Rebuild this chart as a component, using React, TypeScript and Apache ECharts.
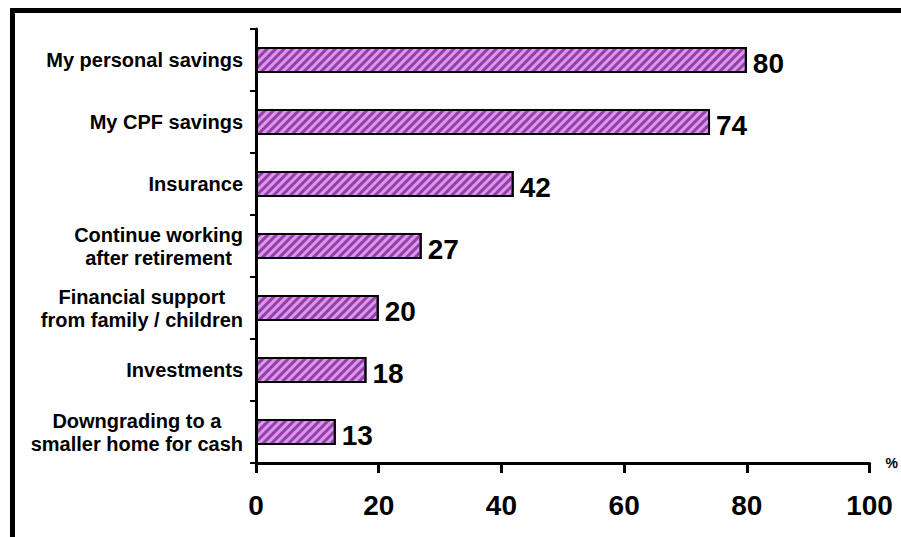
import React, { useEffect, useRef } from "react";
import * as echarts from "echarts";

const categories: string[] = [
  "My personal savings",
  "My CPF savings",
  "Insurance",
  "Continue working\nafter retirement",
  "Financial support\nfrom family / children",
  "Investments",
  "Downgrading to a\nsmaller home for cash",
];
const values: number[] = [80, 74, 42, 27, 20, 18, 13];
const xTicks = { min: 0, max: 100, interval: 20 };
const axisUnit = "%";

const FONT = "'Liberation Sans', Arial, Helvetica, sans-serif";

export default function App() {
  const ref = useRef<HTMLDivElement>(null);
  useEffect(() => {
    if (!ref.current) return;
    const chart = echarts.init(ref.current, undefined, { renderer: "svg" });
    chart.setOption({
      animation: false,
      backgroundColor: "#ffffff",
      grid: { left: 256, right: 30, top: 29, bottom: 74, containLabel: false },
      xAxis: {
        type: "value",
        min: xTicks.min,
        max: xTicks.max,
        interval: xTicks.interval,
        name: axisUnit,
        nameLocation: "end",
        nameGap: 16,
        nameTextStyle: {
          fontFamily: FONT,
          fontWeight: "bold",
          fontSize: 14,
          color: "#000",
          padding: [14, 0, 0, 0],
        },
        splitLine: { show: false },
        axisLine: { show: true, lineStyle: { color: "#000", width: 3 } },
        axisTick: { show: true, length: 10, lineStyle: { color: "#000", width: 3 } },
        axisLabel: {
          margin: 28,
          fontFamily: FONT,
          fontWeight: "bold",
          fontSize: 28,
          color: "#000",
        },
      },
      yAxis: {
        type: "category",
        data: categories,
        inverse: true,
        axisLine: { show: true, lineStyle: { color: "#000", width: 3 } },
        axisTick: { show: true, length: 6, lineStyle: { color: "#000", width: 2 } },
        splitLine: { show: false },
        axisLabel: {
          margin: 13,
          formatter: (v: string) =>
            v
              .split("\n")
              .map((l) => `{c|${l}}`)
              .join("\n"),
          rich: {
            c: {
              align: "center",
              fontFamily: FONT,
              fontWeight: "bold",
              fontSize: 20,
              lineHeight: 23,
              color: "#000",
            },
          },
        },
      },
      series: [
        {
          type: "bar",
          data: values,
          barWidth: 26,
          itemStyle: {
            color: "#d49aee",
            borderColor: "#000",
            borderWidth: 2,
            decal: {
              symbol: "rect",
              symbolSize: 1,
              dashArrayX: [[1, 0]],
              dashArrayY: [3, 3],
              rotation: -Math.PI / 4,
              color: "#9c3ca6",
            },
          },
          label: {
            show: true,
            position: "right",
            distance: 6,
            offset: [0, 3],
            fontFamily: FONT,
            fontWeight: "bold",
            fontSize: 28,
            color: "#000",
          },
        },
      ],
      graphic: [
        {
          type: "line",
          shape: { x1: 10, y1: 10.5, x2: 901, y2: 10.5 },
          style: { stroke: "#000", lineWidth: 5 },
        },
        {
          type: "line",
          shape: { x1: 12.5, y1: 8, x2: 12.5, y2: 537 },
          style: { stroke: "#000", lineWidth: 5 },
        },
      ],
    });
    return () => chart.dispose();
  }, []);
  return (
    <div
      ref={ref}
      style={{ position: "fixed", left: 0, top: 0, width: 901, height: 537 }}
    />
  );
}
